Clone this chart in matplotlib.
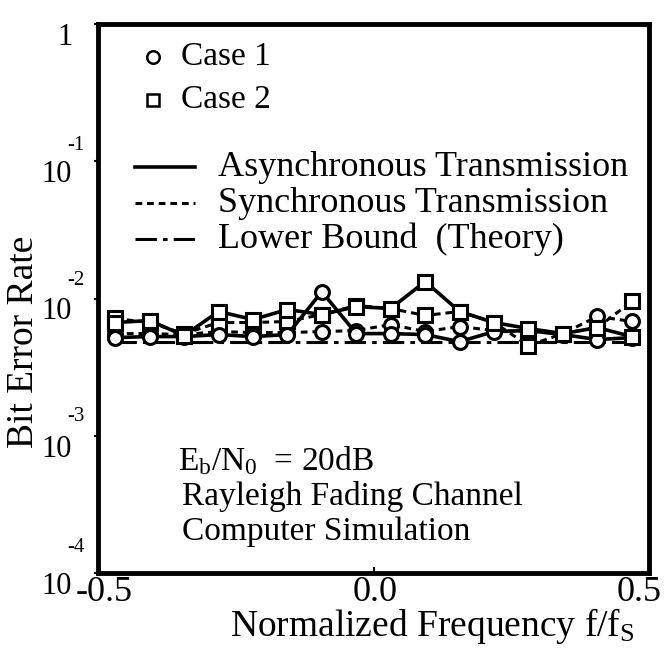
import matplotlib
matplotlib.use("Agg")
import matplotlib.pyplot as plt
from matplotlib.lines import Line2D

plt.rcParams['font.family'] = ['Liberation Serif', 'DejaVu Serif']
plt.rcParams['mathtext.fontset'] = 'custom'
plt.rcParams['mathtext.rm'] = 'Liberation Serif'
plt.rcParams['mathtext.it'] = 'Liberation Serif:italic'

# ---- data ----
freq = [-15/32, -13/32, -11/32, -9/32, -7/32, -5/32, -3/32, -1/32,
        1/32, 3/32, 5/32, 7/32, 9/32, 11/32, 13/32, 15/32]
case1_async = [5.19e-3, 5.28e-3, 5.28e-3, 5.46e-3, 5.28e-3, 5.46e-3, 1.12e-2, 5.55e-3,
               5.55e-3, 5.46e-3, 4.85e-3, 5.74e-3, 5.84e-3, 5.46e-3, 5.02e-3, 5.19e-3]
case1_sync = [5.55e-3, 5.55e-3, 5.46e-3, 5.74e-3, 5.65e-3, 5.65e-3, 5.74e-3, 5.84e-3,
              6.46e-3, 5.74e-3, 6.25e-3, 5.84e-3, 5.74e-3, 5.55e-3, 7.40e-3, 6.80e-3]
case2_async = [6.68e-3, 6.91e-3, 5.37e-3, 8.04e-3, 7.03e-3, 8.31e-3, 7.64e-3, 8.74e-3,
               8.45e-3, 1.33e-2, 8.04e-3, 6.68e-3, 6.04e-3, 5.55e-3, 6.14e-3, 5.28e-3]
case2_sync = [7.15e-3, 6.68e-3, 5.55e-3, 6.68e-3, 6.68e-3, 6.80e-3, 7.64e-3, 8.89e-3,
              8.45e-3, 7.52e-3, 8.04e-3, 6.68e-3, 4.54e-3, 5.55e-3, 6.14e-3, 9.51e-3]
lower_bound = [4.85e-3] * 16

xticks = [-0.5, 0.0, 0.5]
xtick_labels = ['-0.5', '0.0', '0.5']
yticks = [1e-4, 1e-3, 1e-2, 1e-1, 1]
ytick_exps = ['-4', '-3', '-2', '-1', '']

W, H = 665, 650
fig = plt.figure(figsize=(W / 100, H / 100), dpi=100)
L, R, T, B = 98, 649, 24, 573
ax = fig.add_axes([L / W, 1 - B / H, (R - L) / W, (B - T) / H])

def fx(px):
    return px / W

def fy(py):
    return 1 - py / H

DOT = (0, (2.2, 1.6))
DASHDOT = (0, (7, 2, 1.5, 2))
mk = dict(markersize=10, markerfacecolor='white', markeredgecolor='black', markeredgewidth=2.2)

ax.plot(freq, lower_bound, color='black', lw=2.2, linestyle=DASHDOT, zorder=2)
ax.plot(freq, case1_sync, color='black', lw=2.2, linestyle=DOT, marker='o', zorder=3, **mk)
ax.plot(freq, case2_sync, color='black', lw=2.2, linestyle=DOT, marker='s', zorder=3, **mk)
ax.plot(freq, case1_async, color='black', lw=2.6, linestyle='-', marker='o', zorder=4, **mk)
ax.plot(freq, case2_async, color='black', lw=2.6, linestyle='-', marker='s', zorder=4, **mk)

ax.set_xlim(-0.5, 0.5)
ax.set_yscale('log')
ax.set_ylim(1e-4, 1)
ax.set_xticks(xticks)
ax.set_xticklabels([])
ax.set_yticks(yticks)
ax.yaxis.set_minor_locator(matplotlib.ticker.NullLocator())
ax.tick_params(axis='y', which='both', labelleft=False, direction='out', length=3, width=1.5)
ax.tick_params(axis='x', direction='in', length=4, width=1.5)
for s in ax.spines.values():
    s.set_linewidth(3.5)

# custom x tick labels
xlabel_shift = [6, 2, -10]
for val, lab, dx in zip(xticks, xtick_labels, xlabel_shift):
    px = ax.transData.transform((val, 1e-4))[0]
    fig.text(fx(px + dx), fy(576), lab, fontsize=26, ha='center', va='top')

# custom y tick labels: "10" with raised exponent
sup_offsets = [26, 19, 18, 16, 0]
for val, exp, off in zip(yticks, ytick_exps, sup_offsets):
    ty = ax.transData.transform((0, val))[1]
    py = H - ty
    if exp == '':
        fig.text(fx(73), fy(py - 1), '1', fontsize=22, ha='right', va='top')
    else:
        fig.text(fx(72), fy(py - 1), '10', fontsize=22, ha='right', va='top')
        fig.text(fx(67), fy(py - off), exp, fontsize=15, ha='left', va='center')

# axis labels
fig.text(fx(24), fy(342), 'Bit Error Rate', fontsize=27, rotation=90, ha='center', va='center')
fig.text(fx(432), fy(636), r'Normalized Frequency f/f$_\mathrm{S}$', fontsize=27, ha='center', va='baseline')

# legend: markers
fig.add_artist(Line2D([fx(153)], [fy(57)], transform=fig.transFigure, marker='o', linestyle='none',
                      markersize=9, markerfacecolor='white', markeredgecolor='black', markeredgewidth=1.8))
fig.add_artist(Line2D([fx(153)], [fy(100)], transform=fig.transFigure, marker='s', linestyle='none',
                      markersize=9, markerfacecolor='white', markeredgecolor='black', markeredgewidth=1.8))
fig.text(fx(181), fy(57), 'Case 1', fontsize=24, ha='left', va='center')
fig.text(fx(181), fy(100), 'Case 2', fontsize=24, ha='left', va='center')

# legend: line styles
for py, ls, lw, label in [(167, '-', 2.6, 'Asynchronous Transmission'),
                          (203, DOT, 2.2, 'Synchronous Transmission'),
                          (239, DASHDOT, 2.2, 'Lower Bound  (Theory)')]:
    fig.add_artist(Line2D([fx(135), fx(195)], [fy(py), fy(py)], transform=fig.transFigure,
                          color='black', lw=lw, linestyle=ls))
    fig.text(fx(218), fy(py), label, fontsize=26, ha='left', va='center')

# annotations
fig.text(fx(178), fy(470), r'E$_\mathrm{b}$/N$_\mathrm{0}$  = 20dB', fontsize=24, ha='left', va='baseline')
fig.text(fx(182), fy(505), 'Rayleigh Fading Channel', fontsize=24, ha='left', va='baseline')
fig.text(fx(182), fy(540), 'Computer Simulation', fontsize=24, ha='left', va='baseline')

fig.savefig('out.png', dpi=100)
